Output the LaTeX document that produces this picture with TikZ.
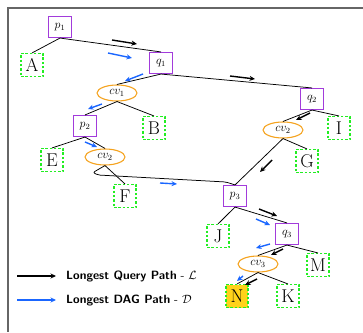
\documentclass[tikz,border=0pt]{standalone}
\usetikzlibrary{shapes.geometric,arrows.meta}
\definecolor{inner}{HTML}{A23BDB}
\definecolor{leafc}{HTML}{22EE22}
\definecolor{cvc}{HTML}{F5A21C}
\definecolor{dagc}{HTML}{1A66FF}
\definecolor{goldc}{HTML}{FFD21A}
\tikzset{
  innerbox/.style={draw=inner, line width=1.1pt, fill=white, minimum width=23pt,
    minimum height=21pt, inner sep=0pt, font=\fontsize{12}{14}\selectfont},
  leafbox/.style={draw=leafc, line width=1.1pt, dash pattern=on 2.5pt off 1.8pt,
    fill=white, minimum width=22pt, minimum height=23pt, inner sep=0pt,
    font=\fontsize{18.5}{20}\selectfont},
  cvnode/.style={ellipse, draw=cvc, line width=1.1pt, fill=white, minimum width=40pt,
    minimum height=16pt, inner sep=0pt, font=\fontsize{12}{14}\selectfont},
  edge/.style={draw=black, line width=0.75pt},
  qarrow/.style={black, line width=1.4pt, -{Stealth[length=5.5pt,width=5pt]}},
  darrow/.style={dagc, line width=1.4pt, -{Stealth[length=5.5pt,width=5pt]}},
  legendtext/.style={anchor=west, inner sep=0pt, font=\fontsize{12}{14}\selectfont}
}
\begin{document}
\begin{tikzpicture}[x=1pt,y=-1pt]
\useasboundingbox (0,0) rectangle (363,332);
% outer frame, open to the right and below
\draw[gray!80!black, line width=1.1pt] (363,8) -- (8,8) -- (8,332);

% tree nodes
\node[innerbox] (p1) at (60,27) {$p_1$};
\node[leafbox] (A) at (32,65) {A};
\node[innerbox] (q1) at (161,63) {$q_1$};
\node[cvnode] (cv1) at (117,93) {$cv_1$};
\node[leafbox] (B) at (154,128) {B};
\node[innerbox] (q2) at (312,99) {$q_2$};
\node[leafbox] (I) at (339,128) {I};
\node[cvnode] (cvR) at (283,130) {$cv_2$};
\node[leafbox] (G) at (307,161) {G};
\node[innerbox] (p2) at (85,126) {$p_2$};
\node[leafbox] (E) at (52,160) {E};
\node[cvnode] (cvL) at (105,157) {$cv_2$};
\node[leafbox] (F) at (125,196) {F};
\node[innerbox] (p3) at (235,196) {$p_3$};
\node[leafbox] (J) at (218,236) {J};
\node[innerbox] (q3) at (287,234) {$q_3$};
\node[leafbox] (M) at (318,265) {M};
\node[cvnode] (cv3) at (258,264) {$cv_3$};
\node[leafbox, fill=goldc] (N) at (237,296) {N};
\node[leafbox] (K) at (288,296) {K};

% tree edges
\draw[edge] (p1.south) -- (A.north);
\draw[edge] (p1.south) -- (q1.north);
\draw[edge] (q1.south) -- (cv1.north);
\draw[edge] (q1.south) -- (q2.north);
\draw[edge] (cv1.south) -- (p2.north);
\draw[edge] (cv1.south) -- (B.north);
\draw[edge] (q2.south) -- (cvR.north);
\draw[edge] (q2.south) -- (I.north);
\draw[edge] (cvR.south) -- (G.north);
\draw[edge] (cvR.south) -- (p3.north);
\draw[edge] (p2.south) -- (E.north);
\draw[edge] (p2.south) -- (cvL.north);
\draw[edge] (cvL.south) -- (F.north);
\draw[edge, rounded corners=2pt] (cvL.south) -- (93,172.5) -- (98,175) -- (226,182) -- (p3.north);
\draw[edge] (p3.south) -- (J.north);
\draw[edge] (p3.south) -- (q3.north);
\draw[edge] (q3.south) -- (cv3.north);
\draw[edge] (q3.south) -- (M.north);
\draw[edge] (cv3.south) -- (N.north);
\draw[edge] (cv3.south) -- (K.north);

% longest query path
\draw[qarrow] (112,40) -- (137,44);
\draw[qarrow] (230,76) -- (255,79);
\draw[qarrow] (310,113) -- (296,120);
\draw[qarrow] (272,160) -- (260,172);
\draw[qarrow] (259,209) -- (277,216);
\draw[qarrow] (283,249) -- (271,255);
\draw[qarrow] (257,279) -- (245,285);

% longest DAG path
\draw[darrow] (108,53) -- (132,58);
\draw[darrow] (143,74) -- (125,81);
\draw[darrow] (102,104) -- (88,109);
\draw[darrow] (85,142) -- (97,147);
\draw[darrow] (160,183) -- (177,184);
\draw[darrow] (256,219) -- (270,225);
\draw[darrow] (270,244) -- (256,248);
\draw[darrow] (243,276) -- (237,281);

% legend
\coordinate (lq0) at (17,276);
\coordinate (lq1) at (56,276);
\coordinate (ld0) at (17,300);
\coordinate (ld1) at (56,300);
\draw[qarrow] (lq0) -- (lq1);
\draw[darrow] (ld0) -- (ld1);
\node[legendtext] (lqt) at (66,276) {\textsf{\bfseries Longest Query Path} \textsf{-} $\mathcal{L}$};
\node[legendtext] (ldt) at (66,300) {\textsf{\bfseries Longest DAG Path} \textsf{-} $\mathcal{D}$};
\end{tikzpicture}
\end{document}
